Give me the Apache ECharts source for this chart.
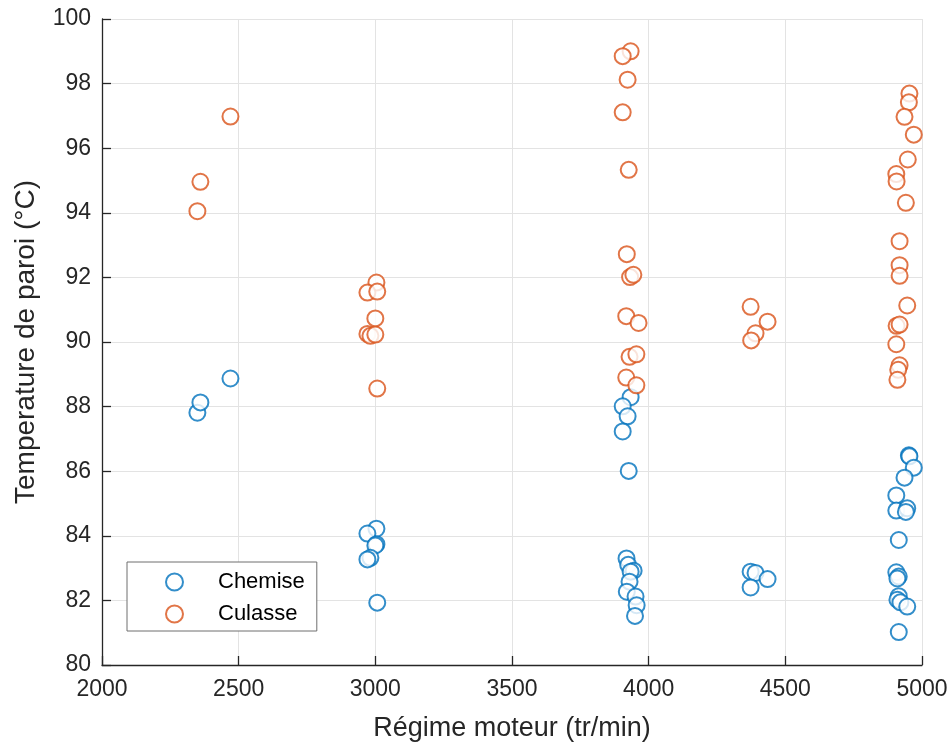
<!DOCTYPE html>
<html>
<head>
<meta charset="utf-8">
<script src="https://cdn.jsdelivr.net/npm/echarts@6/dist/echarts.min.js"></script>
<style>html,body{margin:0;padding:0;background:#fff;}#c{width:952px;height:747px;}</style>
</head>
<body>
<div id="c"></div>
<script>
// Chemise (blue) points: [régime, température]
const chemiseX = [2349, 2360, 2470,
  3004, 2971, 3004, 3000, 2982, 2971, 3007,
  3934, 3905, 3923, 3905, 3927,
  3919, 3925, 3945, 3934, 3930, 3920, 3952, 3956, 3950,
  4373, 4391, 4435, 4373,
  4952, 4954, 4970, 4936, 4906, 4906, 4946, 4941, 4915, 4906, 4915, 4910, 4915, 4910, 4921, 4946, 4915];
const chemiseY = [87.81, 88.13, 88.87,
  84.22, 84.07, 83.74, 83.70, 83.32, 83.27, 81.93,
  88.29, 88.01, 87.70, 87.23, 86.01,
  83.30, 83.10, 82.92, 82.89, 82.58, 82.27, 82.12, 81.85, 81.52,
  82.89, 82.85, 82.66, 82.40,
  86.49, 86.46, 86.11, 85.80, 85.25, 84.78, 84.85, 84.74, 83.87, 82.87, 82.74, 82.68, 82.13, 82.02, 81.94, 81.81, 81.02];

// Culasse (orange) points
const culasseX = [2349, 2360, 2470,
  3004, 2971, 3007, 3000, 2971, 2982, 3000, 3007,
  3934, 3905, 3923, 3905, 3927,
  3920, 3932, 3944, 3918, 3963, 3930, 3955, 3918, 3955,
  4373, 4435, 4391, 4375,
  4954, 4952, 4936, 4970, 4948, 4906, 4907, 4941, 4918, 4918, 4918, 4946, 4907, 4918, 4906, 4918, 4913, 4910];
const culasseY = [94.05, 94.96, 96.98,
  91.84, 91.53, 91.56, 90.73, 90.25, 90.19, 90.23, 88.56,
  99.00, 98.85, 98.12, 97.11, 95.33,
  92.72, 92.01, 92.08, 90.80, 90.59, 89.54, 89.62, 88.90, 88.66,
  91.09, 90.63, 90.27, 90.05,
  97.69, 97.42, 96.97, 96.42, 95.65, 95.20, 94.97, 94.31, 93.12, 92.38, 92.05, 91.13, 90.50, 90.54, 89.93, 89.28, 89.14, 88.83];

const xTicks = [2000, 2500, 3000, 3500, 4000, 4500, 5000];
const yTicks = [80, 82, 84, 86, 88, 90, 92, 94, 96, 98, 100];

const chemise = chemiseX.map((x, i) => [x, chemiseY[i]]);
const culasse = culasseX.map((x, i) => [x, culasseY[i]]);

const font = "'Liberation Sans', Arial, Helvetica, sans-serif";
const chart = echarts.init(document.getElementById('c'), null, {renderer: 'canvas'});
chart.setOption({
  animation: false,
  backgroundColor: '#ffffff',
  grid: {left: 102, right: 30, top: 19, bottom: 80, containLabel: false},
  xAxis: {
    type: 'value', min: xTicks[0], max: xTicks[xTicks.length - 1], interval: 500,
    name: 'Régime moteur (tr/min)', nameLocation: 'middle', nameGap: 50,
    nameTextStyle: {fontFamily: font, fontSize: 27, color: '#262626'},
    axisLine: {show: true, onZero: false, lineStyle: {color: '#262626', width: 1.3}},
    axisTick: {show: true, inside: true, length: 9, lineStyle: {color: '#262626', width: 1.3}},
    axisLabel: {fontFamily: font, fontSize: 23, color: '#262626', margin: 13, formatter: v => String(v)},
    splitLine: {show: true, lineStyle: {color: '#e3e3e3', width: 1}}
  },
  yAxis: {
    type: 'value', min: yTicks[0], max: yTicks[yTicks.length - 1], interval: 2,
    name: 'Temperature de paroi (°C)', nameLocation: 'middle', nameGap: 62,
    nameTextStyle: {fontFamily: font, fontSize: 28, color: '#262626'},
    axisLine: {show: true, onZero: false, lineStyle: {color: '#262626', width: 1.3}},
    axisTick: {show: true, inside: true, length: 9, lineStyle: {color: '#262626', width: 1.3}},
    axisLabel: {fontFamily: font, fontSize: 23, color: '#262626', margin: 11},
    splitLine: {show: true, lineStyle: {color: '#e3e3e3', width: 1}}
  },
  legend: {
    orient: 'vertical', left: 127, top: 562,
    padding: [9, 12, 6, 38],
    itemWidth: 17, itemHeight: 17, itemGap: 10,
    icon: 'emptyCircle',
    backgroundColor: '#ffffff', borderColor: '#6e6e6e', borderWidth: 1, borderRadius: 0,
    textStyle: {fontFamily: font, fontSize: 22, color: '#000000', padding: [0, 0, 0, 30]},
    data: ['Chemise', 'Culasse']
  },
  series: [
    {name: 'Chemise', type: 'scatter', data: chemise, symbol: 'emptyCircle', symbolSize: 16,
     itemStyle: {color: '#0072BD', borderColor: '#0072BD', borderWidth: 1.7}},
    {name: 'Culasse', type: 'scatter', data: culasse, symbol: 'emptyCircle', symbolSize: 16,
     itemStyle: {color: '#D95319', borderColor: '#D95319', borderWidth: 1.7}}
  ]
});
</script>
</body>
</html>
